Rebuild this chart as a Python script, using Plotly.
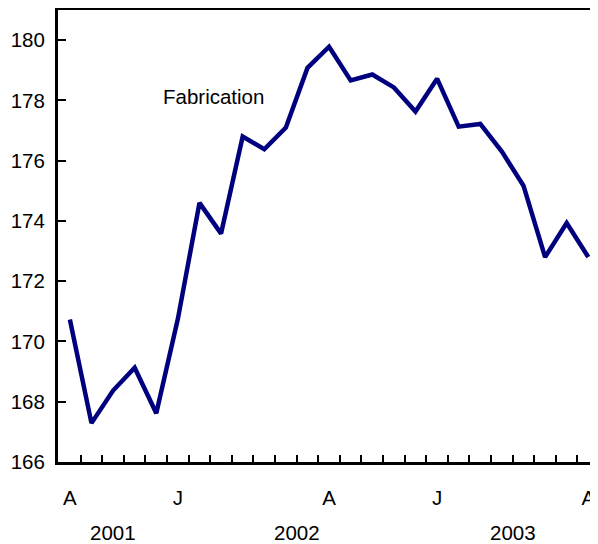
import plotly.graph_objects as go

# Monthly values, August 2001 to August 2003
months = ['Aug 2001', 'Sep 2001', 'Oct 2001', 'Nov 2001', 'Dec 2001',
          'Jan 2002', 'Feb 2002', 'Mar 2002', 'Apr 2002', 'May 2002', 'Jun 2002',
          'Jul 2002', 'Aug 2002', 'Sep 2002', 'Oct 2002', 'Nov 2002', 'Dec 2002',
          'Jan 2003', 'Feb 2003', 'Mar 2003', 'Apr 2003', 'May 2003', 'Jun 2003',
          'Jul 2003', 'Aug 2003']
fabrication = [170.73, 167.29, 168.37, 169.13, 167.62,
               170.75, 174.6, 173.58, 176.8, 176.38, 177.1,
               179.08, 179.78, 178.66, 178.86, 178.43, 177.63,
               178.72, 177.13, 177.22, 176.3, 175.17, 172.8,
               173.93, 172.8]
label_idx = [0, 5, 12, 17, 24]
label_text = ['A', 'J', 'A', 'J', 'A']
years = ['2001', '2002', '2003']

x = list(range(len(months)))
font = 'Liberation Sans, Arial, Helvetica, sans-serif'
fs = 20.5

fig = go.Figure()
fig.add_trace(go.Scatter(x=x, y=fabrication, mode='lines',
                         line=dict(color='#00007f', width=4.5),
                         showlegend=False))

# year labels centred on the months of each year
for yr in years:
    idx = [i for i, m in enumerate(months) if m.endswith(yr)]
    fig.add_annotation(x=(idx[0] + idx[-1]) / 2, y=-0.157, xref='x', yref='paper',
                       yanchor='middle', text=yr, showarrow=False,
                       font=dict(size=fs, color='black', family=font))

fig.add_annotation(x=6.65, y=178.12, xref='x', yref='y', text='Fabrication',
                   xanchor='center', yanchor='middle', showarrow=False,
                   font=dict(size=fs, color='black', family=font))

# the page body adds an 8px offset, so the figure is shrunk to fit the window
fig.update_layout(
    width=590, height=536,
    margin=dict(l=50, r=0, t=2, b=82, autoexpand=False),
    plot_bgcolor='white', paper_bgcolor='white',
    font=dict(family=font, size=fs, color='black'),
    xaxis=dict(range=[-0.55, 24.45], showgrid=False, zeroline=False,
               showline=True, linecolor='black', linewidth=3, mirror=True,
               tickmode='array', tickvals=label_idx, ticktext=label_text,
               ticks='', ticklabelstandoff=15, automargin=False,
               ticklabeloverflow='allow',
               minor=dict(tickmode='array', tickvals=[i + 0.5 for i in range(24)],
                          ticks='inside', ticklen=7, tickwidth=2, tickcolor='black',
                          showgrid=False)),
    yaxis=dict(range=[166, 181], showgrid=False, zeroline=False,
               showline=True, linecolor='black', linewidth=3, automargin=False,
               tickmode='array', tickvals=[166, 168, 170, 172, 174, 176, 178, 180],
               ticks='inside', ticklen=8, tickwidth=2, tickcolor='black',
               ticklabelstandoff=6),
)

fig.write_html('out.html')
